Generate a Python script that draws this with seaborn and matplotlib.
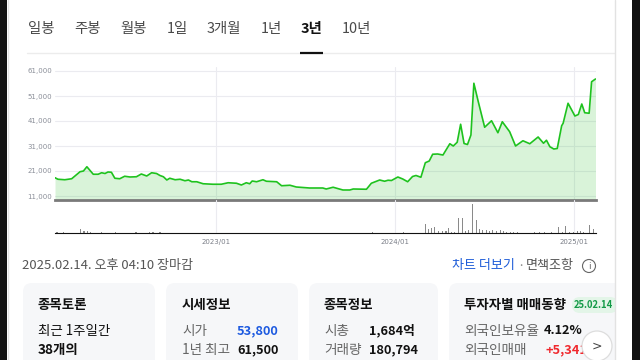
import matplotlib
matplotlib.use("Agg")
import matplotlib.pyplot as plt
import matplotlib.patches as mpatches
import pandas as pd
import seaborn as sns

################################################################################
# data (weekly close, volume in thousand shares)
################################################################################

price_dates = [
    "2022-02-07", "2022-02-13", "2022-02-27", "2022-03-13", "2022-03-30", "2022-04-06",
    "2022-04-13", "2022-04-26", "2022-05-06", "2022-05-13", "2022-05-20", "2022-05-26",
    "2022-06-02", "2022-06-09", "2022-06-19", "2022-06-29", "2022-07-10", "2022-07-23",
    "2022-08-02", "2022-08-13", "2022-08-23", "2022-09-02", "2022-09-09", "2022-09-16",
    "2022-09-23", "2022-09-29", "2022-10-10", "2022-10-20", "2022-10-30", "2022-11-06",
    "2022-11-13", "2022-11-23", "2022-12-06", "2022-12-26", "2023-01-12", "2023-01-26",
    "2023-02-12", "2023-02-22", "2023-03-04", "2023-03-11", "2023-03-16", "2023-03-25",
    "2023-04-07", "2023-04-14", "2023-05-05", "2023-05-15", "2023-06-01", "2023-06-14",
    "2023-07-11", "2023-08-07", "2023-08-14", "2023-08-28", "2023-09-17", "2023-10-01",
    "2023-10-08", "2023-11-04", "2023-11-14", "2023-12-01", "2023-12-11", "2023-12-18",
    "2023-12-25", "2024-01-07", "2024-01-17", "2024-01-27", "2024-02-06", "2024-02-13",
    "2024-02-23", "2024-03-03", "2024-03-11", "2024-03-18", "2024-03-28", "2024-04-08",
    "2024-04-22", "2024-04-29", "2024-05-07", "2024-05-14", "2024-05-21", "2024-05-28",
    "2024-06-04", "2024-06-10", "2024-06-19", "2024-07-02", "2024-07-16", "2024-07-29",
    "2024-08-07", "2024-08-22", "2024-09-03", "2024-09-18", "2024-10-02", "2024-10-19",
    "2024-10-30", "2024-11-05", "2024-11-12", "2024-11-20", "2024-11-27", "2024-12-06",
    "2024-12-09", "2024-12-19", "2025-01-02", "2025-01-09", "2025-01-16", "2025-01-22",
    "2025-01-31", "2025-02-05", "2025-02-13",
]
price_close = [
    18300, 17700, 17500, 17900, 20700, 21000,
    22700, 19700, 19700, 20300, 20000, 20600,
    20500, 18100, 17900, 18900, 18600, 18700,
    19800, 19000, 20300, 20000, 19200, 18700,
    17400, 18100, 17500, 17700, 17100, 17400,
    16700, 16700, 15900, 15700, 15700, 16300,
    16100, 15400, 16300, 15900, 17000, 16700,
    17500, 16900, 16700, 15100, 15300, 14600,
    14200, 14200, 13800, 14500, 13400, 13400,
    13800, 13700, 16100, 17400, 16900, 17300,
    17200, 18600, 17800, 16700, 18800, 19200,
    18500, 24300, 25000, 27700, 27800, 27400,
    31900, 31000, 32500, 39700, 32000, 31600,
    35400, 56100, 48700, 38500, 41100, 36300,
    40700, 36700, 31000, 33100, 31900, 34600,
    32100, 33300, 30700, 29800, 30000, 39100,
    40100, 48100, 43000, 43600, 47800, 44300,
    44100, 56700, 57800,
]

vol_dates = [
    "2022-02-11", "2022-02-25", "2022-03-31", "2022-04-07", "2022-04-14", "2022-04-21",
    "2022-05-13", "2022-06-10", "2022-07-22", "2022-08-19", "2022-08-26", "2022-09-09",
    "2022-10-14", "2023-03-17", "2023-04-07", "2023-11-17", "2023-12-01", "2024-01-19",
    "2024-03-03", "2024-03-09", "2024-03-16", "2024-03-22", "2024-03-30", "2024-04-07",
    "2024-04-14", "2024-04-20", "2024-04-26", "2024-05-02", "2024-05-10", "2024-05-18",
    "2024-05-24", "2024-05-30", "2024-06-07", "2024-06-15", "2024-06-21", "2024-06-27",
    "2024-07-06", "2024-07-12", "2024-07-18", "2024-07-26", "2024-08-03", "2024-08-09",
    "2024-08-15", "2024-08-24", "2024-08-30", "2024-09-07", "2024-10-12", "2024-10-22",
    "2024-11-01", "2024-11-15", "2024-11-30", "2024-12-08", "2024-12-14", "2024-12-22",
    "2024-12-30", "2025-01-07", "2025-01-13", "2025-01-19", "2025-02-01", "2025-02-09",
]
vol_values = [
    70, 60, 430, 200, 200, 100,
    60, 60, 60, 70, 60, 60,
    50, 50, 50, 60, 50, 60,
    870, 370, 470, 570, 170, 200,
    200, 500, 130, 100, 1530, 1500,
    170, 270, 2870, 1330, 400, 300,
    300, 200, 300, 170, 270, 200,
    130, 100, 100, 70, 70, 70,
    70, 70, 570, 130, 700, 130,
    130, 200, 200, 130, 770, 400,
]

y_ticks = [11000, 21000, 31000, 41000, 51000, 61000]
x_ticks = ["2023-01-01", "2024-01-01", "2025-01-01"]
x_labels = ["2023/01", "2024/01", "2025/01"]

tabs = ["일봉", "주봉", "월봉", "1일", "3개월", "1년", "3년", "10년"]
tab_x = [41, 88, 134, 177, 224, 271, 311, 356]

################################################################################
# figure
################################################################################

sns.set_style("white")
plt.rcParams["font.family"] = ["Noto Sans CJK KR", "DejaVu Sans"]

W, H = 640, 360
fig = plt.figure(figsize=(6.4, 3.6), dpi=100)

# page layer in pixel coordinates
ui = fig.add_axes([0, 0, 1, 1], zorder=0)
ui.set_xlim(0, W)
ui.set_ylim(H, 0)
ui.axis("off")

# tabs
for lab, x in zip(tabs, tab_x):
    sel = lab == "3년"
    ui.text(x, 29, lab, ha="center", va="center", fontsize=10.4,
            color="#111111" if sel else "#4a4a4a",
            fontweight="bold" if sel else "normal")
ui.plot([27, 614], [52.7, 52.7], color="#ececec", lw=1)
ui.plot([300, 323], [52.5, 52.5], color="#111111", lw=1.6, solid_capstyle="butt")

# status line under the chart
ui.text(22, 266, "2025.02.14. 오후 04:10 장마감", ha="left", va="center",
        fontsize=9.4, color="#555555")
ui.text(452, 266, "차트 더보기", ha="left", va="center", fontsize=9.4, color="#1c5bd8")
ui.text(517, 266, "·", ha="left", va="center", fontsize=9.4, color="#888888")
ui.text(526, 266, "면책조항", ha="left", va="center", fontsize=9.4, color="#555555")
ui.add_patch(mpatches.Circle((589, 266), 6.5, facecolor="white", edgecolor="#666666", lw=0.8))
ui.text(589, 266.5, "i", ha="center", va="center", fontsize=6.5, color="#666666",
        family="DejaVu Sans")

# info cards
cards = [(23, 155), (166, 298), (309, 438), (449, 660)]
for x0, x1 in cards:
    ui.add_patch(mpatches.FancyBboxPatch((x0, 283), x1 - x0, 120,
                 boxstyle="round,pad=0,rounding_size=9",
                 facecolor="#f6f7f9", edgecolor="none"))

titles = [("종목토론", 38), ("시세정보", 182), ("종목정보", 324), ("투자자별 매매동향", 464)]
for t, x in titles:
    ui.text(x, 305, t, ha="left", va="center", fontsize=9.7, fontweight="bold",
            color="#111111")

ui.add_patch(mpatches.FancyBboxPatch((572, 297), 46, 16,
             boxstyle="round,pad=0,rounding_size=8",
             facecolor="#e3f5e8", edgecolor="none"))
ui.text(574, 305, "25.02.14", ha="left", va="center", fontsize=6.8,
        color="#139a47", fontweight="bold")

ui.text(38, 331, "최근 1주일간", ha="left", va="center", fontsize=9.7, color="#111111")
ui.text(38, 350, "38개의", ha="left", va="center", fontsize=9.7, color="#111111",
        fontweight="bold")

rows = [
    (182, 237, 331, "시가", "53,800", "#1d5ae0"),
    (182, 237, 350, "1년 최고", "61,500", "#111111"),
    (324, 369, 331, "시총", "1,684억", "#111111"),
    (324, 369, 350, "거래량", "180,794", "#111111"),
    (464, 544, 331, "외국인보유율", "4.12%", "#111111"),
    (464, 545, 350, "외국인매매", "+5,341", "#f0282d"),
]
for xl, xv, y, lab, val, col in rows:
    ui.text(xl, y, lab, ha="left", va="center", fontsize=9.8, color="#666666")
    ui.text(xv, y, val, ha="left", va="center", fontsize=9.2, color=col,
            fontweight="bold")

ui.add_patch(mpatches.Circle((597, 346), 15, facecolor="white",
             edgecolor="#dddddd", lw=0.9, zorder=5))
ui.text(597, 346, ">", ha="center", va="center", fontsize=9, color="#444444",
        family="DejaVu Sans", zorder=6)

# side borders of the panel
ui.add_patch(mpatches.Rectangle((614.5, 0), 18, H, facecolor="white",
             edgecolor="none", zorder=7))
ui.plot([614.5, 614.5], [0, H], color="#e2e2e2", lw=1, zorder=8)
ui.add_patch(mpatches.Rectangle((632, 0), 8, H, facecolor="#111111",
             edgecolor="none", zorder=8))
ui.add_patch(mpatches.Rectangle((0, 0), 7, H, facecolor="#111111",
             edgecolor="none", zorder=8))
ui.plot([8.2, 8.2], [0, H], color="#e2e2e2", lw=1, zorder=8)

################################################################################
# price chart
################################################################################

df = pd.DataFrame({"date": pd.to_datetime(price_dates), "close": price_close})
vol = pd.DataFrame({"date": pd.to_datetime(vol_dates), "volume": vol_values})

px_l, px_r = 55, 596
ax = fig.add_axes([px_l / W, (H - 200) / H, (px_r - px_l) / W, 133 / H], zorder=2)
ax.set_facecolor("none")
x_min = pd.Timestamp("2022-02-07")
x_max = pd.Timestamp("2025-02-14")

ax.fill_between(df["date"], df["close"], 0, color="#2ec02e", alpha=0.18, lw=0)
sns.lineplot(data=df, x="date", y="close", ax=ax, color="#1ec21e", lw=1.2)

ax.set_xlim(x_min, x_max)
ax.set_ylim(9400, 62600)
ax.set_yticks(y_ticks)
ax.set_yticklabels([f"{v:,}" for v in y_ticks])
ax.set_xticks(pd.to_datetime(x_ticks))
ax.set_xticklabels([])
ax.tick_params(axis="y", length=0, pad=2, labelsize=5, labelcolor="#8a8e98")
ax.tick_params(axis="x", length=0)
for lab in ax.get_yticklabels():
    lab.set_family("DejaVu Sans")
ax.grid(True, color="#ebebf0", lw=0.8)
ax.set_axisbelow(True)
ax.set_xlabel("")
ax.set_ylabel("")
for s in ["top", "left", "right"]:
    ax.spines[s].set_visible(False)
ax.spines["bottom"].set_color("#7a7a7a")
ax.spines["bottom"].set_linewidth(2)

################################################################################
# volume chart
################################################################################

axv = fig.add_axes([px_l / W, (H - 233) / H, (px_r - px_l) / W, 33 / H], zorder=2)
axv.set_facecolor("none")
axv.bar(vol["date"], vol["volume"], width=2.6, color="#8a8a8a", lw=0)
axv.set_xlim(x_min, x_max)
axv.set_ylim(0, 3300)
axv.set_yticks([])
axv.set_xticks(pd.to_datetime(x_ticks))
axv.set_xticklabels(x_labels)
axv.tick_params(axis="x", length=3, width=0.8, color="#111111", pad=1.5,
                labelsize=5, labelcolor="#7b7f88")
for lab in axv.get_xticklabels():
    lab.set_family("DejaVu Sans")
axv.grid(True, axis="x", color="#ebebf0", lw=0.8)
axv.set_axisbelow(True)
for s in ["top", "left", "right"]:
    axv.spines[s].set_visible(False)
axv.spines["bottom"].set_color("#111111")
axv.spines["bottom"].set_linewidth(0.8)

fig.savefig("out.png", dpi=100)
